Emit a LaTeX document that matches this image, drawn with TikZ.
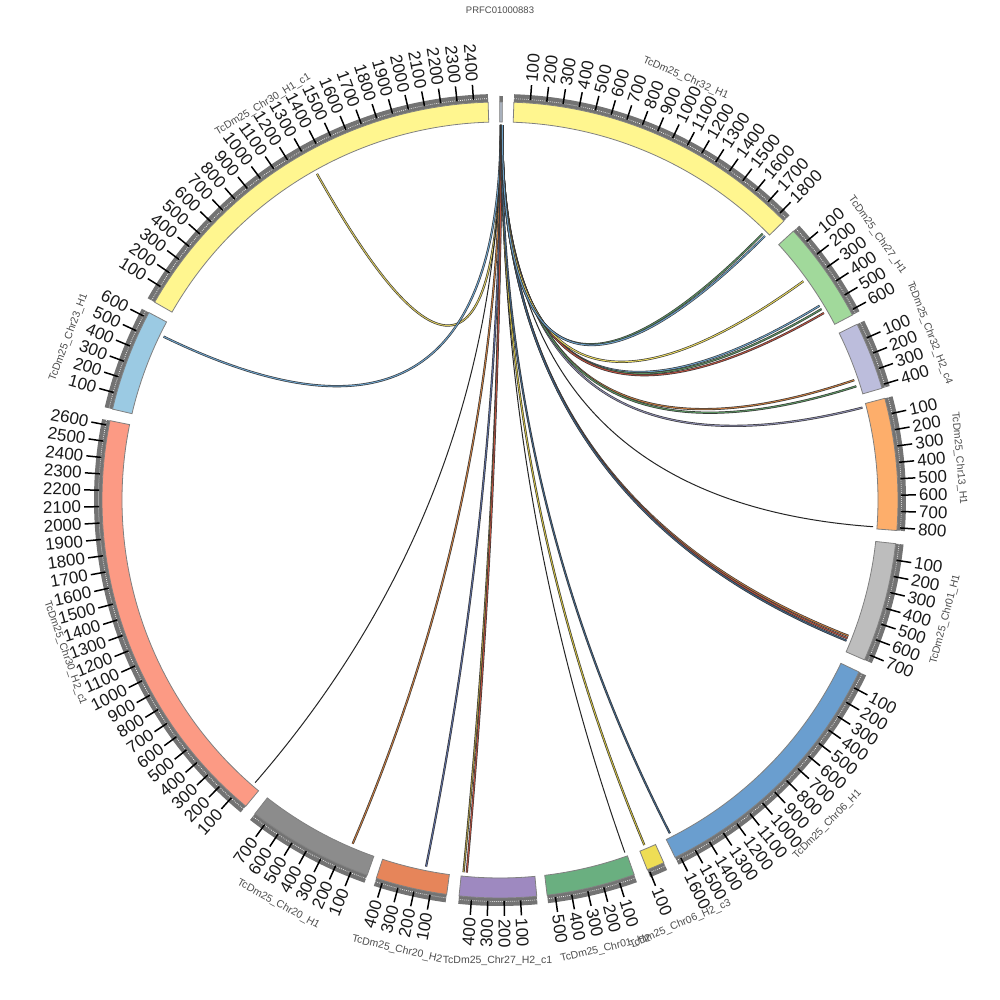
\documentclass[tikz,border=0pt]{standalone}
\usepackage{fontspec}
\setmainfont{Liberation Sans}
\definecolor{cY}{HTML}{FFF68F}
\definecolor{cGa}{HTML}{A1D99B}
\definecolor{cLav}{HTML}{BCBDDC}
\definecolor{cPeach}{HTML}{FDAE6B}
\definecolor{cLG}{HTML}{BDBDBD}
\definecolor{cBlue}{HTML}{6A9ECF}
\definecolor{cYb}{HTML}{EEDD55}
\definecolor{cGb}{HTML}{6AAF80}
\definecolor{cPur}{HTML}{9E89C0}
\definecolor{cOr}{HTML}{E6855A}
\definecolor{cDG}{HTML}{8C8C8C}
\definecolor{cSal}{HTML}{FC9A84}
\definecolor{cLB}{HTML}{9BCAE3}
\definecolor{cPRFC}{HTML}{A8B0BC}
\definecolor{tickgrey}{HTML}{737373}
\definecolor{segborder}{HTML}{808080}
\definecolor{numcol}{HTML}{1A1A1A}
\definecolor{namecol}{HTML}{4D4D4D}
\definecolor{lkY}{HTML}{D8C860}
\definecolor{lkB}{HTML}{6CA0C8}
\definecolor{lkBr}{HTML}{C07840}
\definecolor{lkSl}{HTML}{5A6A9A}
\definecolor{lkOl}{HTML}{A09040}
\definecolor{lkR}{HTML}{B85040}
\definecolor{lkBS}{HTML}{406080}
\definecolor{lkOY}{HTML}{C8B840}
\definecolor{lkG}{HTML}{5A9060}
\definecolor{lkPG}{HTML}{8888AA}
\definecolor{lkYe}{HTML}{E8D860}
\tikzset{
  numlab/.style={font=\fontsize{17}{17}\selectfont, text=numcol, inner sep=0pt},
  namelab/.style={font=\fontsize{10.5}{10.5}\selectfont, text=namecol, inner sep=0pt},
  majortick/.style={line width=1.5pt, black},
  linkedge/.style={line width=2.2pt, black!80},
  darklink/.style={line width=1.0pt, black!85}
}
\def\scl{0.0235}
% start angle, length, colour, number of ticks, name, id
\newcommand\chromseg[6]{%
  \pgfmathsetmacro\csA{#1}%
  \pgfmathsetmacro\csB{#1-#2*\scl}%
  \fill[tickgrey] (\csA:398) arc[start angle=\csA,end angle=\csB,radius=398] -- (\csB:406) arc[start angle=\csB,end angle=\csA,radius=406] -- cycle;
  \draw[white, line width=0.7pt, dash pattern=on 0.7pt off 1.3pt] (\csA:401.5) arc[start angle=\csA,end angle=\csB,radius=401.5];
  \filldraw[fill=#3, draw=segborder, line width=0.8pt] (\csA:378) arc[start angle=\csA,end angle=\csB,radius=378] -- (\csB:398) arc[start angle=\csB,end angle=\csA,radius=398] -- cycle;
  \foreach \k in {1,...,#4}{%
    \pgfmathsetmacro\ta{\csA-\k*100*\scl}%
    \pgfmathtruncatemacro\tv{\k*100}%
    \draw[majortick] (\ta:401) -- (\ta:416);
    \ifdim\ta pt<-90pt
      \node[numlab, anchor=east, rotate=\ta+180] (#6t\k) at (\ta:419) {\tv};
    \else
      \node[numlab, anchor=west, rotate=\ta] (#6t\k) at (\ta:419) {\tv};
    \fi
  }%
  \pgfmathsetmacro\mA{(\csA+\csB)/2}%
  \pgfmathtruncatemacro\up{sin(\mA)>0 ? 1 : 0}%
  \ifnum\up=1
    \node[namelab, rotate=\mA-90] (#6name) at (\mA:461) {#5};
  \else
    \node[namelab, rotate=\mA+90] (#6name) at (\mA:461) {#5};
  \fi
}
% link (quadratic Bezier through the centre, written as a cubic): source angle, target angle, colour
\newcommand\lnk[3]{%
  \draw[linkedge] (#1:375) .. controls (#1:125) and (#2:124.7) .. (#2:374);
  \draw[line width=1.0pt, #3] (#1:375) .. controls (#1:125) and (#2:124.7) .. (#2:374);
}
\newcommand\dlnk[2]{%
  \draw[darklink] (#1:375) .. controls (#1:125) and (#2:124.7) .. (#2:374);
}
\begin{document}
\begin{tikzpicture}[x=1pt,y=1pt]
\fill[white] (0,0) rectangle (1000,1000);
\useasboundingbox (0,0) rectangle (1000,1000);
\begin{scope}[shift={(500,500)}]
  % links
  \lnk{89.90}{119.3}{lkY}
  \lnk{89.88}{154.1}{lkB}
  \dlnk{89.86}{-130.9}
  \lnk{89.84}{-113.2}{lkBr}
  \lnk{89.82}{-101.4}{lkSl}
  \lnk{89.80}{-95.6}{lkOl}
  \lnk{89.79}{-95.1}{lkR}
  \dlnk{89.77}{-70.5}
  \lnk{89.76}{-67.3}{lkOY}
  \lnk{89.75}{-63.0}{lkBS}
  \lnk{89.74}{-21.3}{lkBr}
  \lnk{89.73}{-21.7}{lkR}
  \lnk{89.72}{-22.1}{lkBS}
  \dlnk{89.71}{-4.1}
  \lnk{89.70}{14.3}{lkPG}
  \lnk{89.69}{18.7}{lkBr}
  \lnk{89.68}{17.7}{lkG}
  \lnk{89.67}{31.3}{lkB}
  \lnk{89.66}{30.7}{lkG}
  \lnk{89.65}{30.0}{lkR}
  \lnk{89.64}{35.8}{lkYe}
  \lnk{89.63}{45.4}{lkG}
  \lnk{89.62}{44.9}{lkB}
  % tiny segment at the top
  \fill[tickgrey] (90.1:398) arc[start angle=90.1,end angle=89.6,radius=398] -- (89.6:404) arc[start angle=89.6,end angle=90.1,radius=404] -- cycle;
  \filldraw[fill=cPRFC, draw=segborder, line width=0.6pt] (90.05:378) arc[start angle=90.05,end angle=89.65,radius=378] -- (89.65:398) arc[start angle=89.65,end angle=90.05,radius=398] -- cycle;
  \node[namelab, font=\fontsize{9.5}{9.5}\selectfont] (prfcname) at (90:490) {PRFC01000883};
  % chromosome segments
  \chromseg{88.0}{1851}{cY}{18}{TcDm25\_Chr32\_H1}{a}
  \chromseg{42.5}{630}{cGa}{6}{TcDm25\_Chr27\_H1}{b}
  \chromseg{26.2}{421}{cLav}{4}{TcDm25\_Chr32\_H2\_c4}{c}
  \chromseg{14.8}{817}{cPeach}{8}{TcDm25\_Chr13\_H1}{d}
  \chromseg{-6.3}{740}{cLG}{7}{TcDm25\_Chr01\_H1}{e}
  \chromseg{-25.6}{1630}{cBlue}{16}{TcDm25\_Chr06\_H1}{f}
  \chromseg{-65.7}{110}{cYb}{1}{TcDm25\_Chr06\_H2\_c3}{g}
  \chromseg{-70.3}{549}{cGb}{5}{TcDm25\_Chr01\_H2}{h}
  \chromseg{-84.7}{477}{cPur}{4}{TcDm25\_Chr27\_H2\_c1}{i}
  \chromseg{-97.7}{443}{cOr}{4}{TcDm25\_Chr20\_H2}{j}
  \chromseg{-109.5}{787}{cDG}{7}{TcDm25\_Chr20\_H1}{k}
  \chromseg{-129.7}{2630}{cSal}{26}{TcDm25\_Chr30\_H2\_c1}{l}
  \chromseg{-193.2}{634}{cLB}{6}{TcDm25\_Chr23\_H1}{m}
  \chromseg{-209.8}{2489}{cY}{24}{TcDm25\_Chr30\_H1\_c1}{n}
\end{scope}
\end{tikzpicture}
\end{document}
